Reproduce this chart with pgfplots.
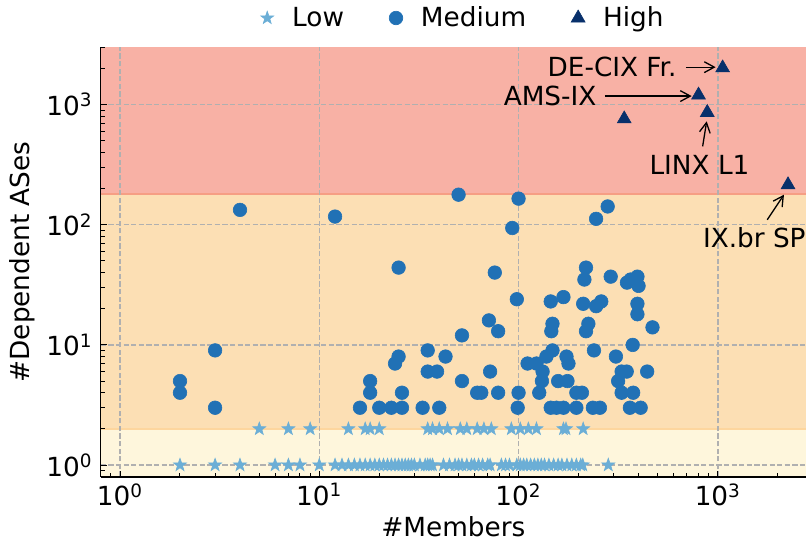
\documentclass[border=0pt]{standalone}
\usepackage{fontspec}
\setmainfont{DejaVu Sans}
\usepackage{pgfplots}
\pgfplotsset{compat=1.18}
\usetikzlibrary{arrows.meta,plotmarks}

\definecolor{lowc}{HTML}{6BAED6}
\definecolor{medc}{HTML}{2171B5}
\definecolor{highc}{HTML}{08306B}
\definecolor{redband}{RGB}{248,177,165}
\definecolor{rededge}{RGB}{246,158,132}
\definecolor{orgband}{RGB}{252,223,180}
\definecolor{orgedge}{RGB}{253,214,158}
\definecolor{yelband}{RGB}{254,246,220}
\definecolor{gridc}{RGB}{176,176,176}

\pgfdeclareplotmark{fstar}{%
  \pgfpathmoveto{\pgfpointpolar{90}{\pgfplotmarksize}}%
  \pgfpathlineto{\pgfpointpolar{126}{0.4\pgfplotmarksize}}%
  \pgfpathlineto{\pgfpointpolar{162}{\pgfplotmarksize}}%
  \pgfpathlineto{\pgfpointpolar{198}{0.4\pgfplotmarksize}}%
  \pgfpathlineto{\pgfpointpolar{234}{\pgfplotmarksize}}%
  \pgfpathlineto{\pgfpointpolar{270}{0.4\pgfplotmarksize}}%
  \pgfpathlineto{\pgfpointpolar{306}{\pgfplotmarksize}}%
  \pgfpathlineto{\pgfpointpolar{342}{0.4\pgfplotmarksize}}%
  \pgfpathlineto{\pgfpointpolar{18}{\pgfplotmarksize}}%
  \pgfpathlineto{\pgfpointpolar{54}{0.4\pgfplotmarksize}}%
  \pgfpathclose
  \pgfusepathqfillstroke}

\begin{document}
\begin{tikzpicture}[font=\fontsize{13.2}{15.8}\selectfont]
\begin{axis}[
  name=ax,
  set layers,
  scale only axis,
  width=352.65bp, height=214.7bp,
  xmode=log, ymode=log,
  xmin=0.8, xmax=2770, ymin=0.8, ymax=3000,
  axis x line*=bottom, axis y line*=left,
  axis line style={black, line width=0.8bp, -},
  tick align=inside,
  major tick length=3bp, minor tick length=2bp,
  every tick/.style={black, line width=0.5bp},
  xtick={1,10,100,1000}, ytick={1,10,100,1000},
  xticklabels={{10\textsuperscript{0}},{10\textsuperscript{1}},{10\textsuperscript{2}},{10\textsuperscript{3}}},
  yticklabels={{10\textsuperscript{0}},{10\textsuperscript{1}},{10\textsuperscript{2}},{10\textsuperscript{3}}},
  minor xtick={0.9,2,3,4,5,6,7,8,9,20,30,40,50,60,70,80,90,200,300,400,500,600,700,800,900,2000},
  minor ytick={0.9,2,3,4,5,6,7,8,9,20,30,40,50,60,70,80,90,200,300,400,500,600,700,800,900,2000,3000},
  xticklabel style={inner sep=0pt, anchor=north, yshift=-3.15bp},
  yticklabel style={inner sep=0pt, anchor=east, xshift=-3.85bp},
  grid=major,
  major grid style={gridc, dash pattern=on 2.6bp off 1.2bp, line width=0.7bp},
  clip=false,
  xlabel={\#Members}, ylabel={\#Dependent ASes},
  xlabel style={at={(axis description cs:0.5,-0.117)}, anchor=center},
  ylabel style={at={(axis description cs:-0.111,0.5)}, anchor=center},
  legend columns=3,
  legend style={draw=none, fill=none, at={(axis description cs:0.510,1.0682)}, anchor=center,
    /tikz/every even column/.append style={column sep=17bp},
    /tikz/every odd column/.append style={column sep=3.5bp}},
  legend image code/.code={\path[draw=none,fill=none] (0bp,0bp) -- (14bp,0bp); \path[#1, draw=none] plot[only marks, mark repeat=1] coordinates {(7bp,0bp)};},
]
% background bands
\addplot[fill=yelband, draw=none, on layer=axis background, forget plot] coordinates {(0.8,0.8) (2770,0.8) (2770,2) (0.8,2)} -- cycle;
\addplot[fill=orgband, draw=none, on layer=axis background, forget plot] coordinates {(0.8,2) (2770,2) (2770,182) (0.8,182)} -- cycle;
\addplot[fill=redband, draw=none, on layer=axis background, forget plot] coordinates {(0.8,182) (2770,182) (2770,3000) (0.8,3000)} -- cycle;
\addplot[draw=orgedge, line width=1bp, on layer=axis background, forget plot] coordinates {(0.8,2) (2770,2)};
\addplot[draw=rededge, line width=1bp, on layer=axis background, forget plot] coordinates {(0.8,182) (2770,182)};

% Low
\addplot[only marks, mark=fstar, mark size=3.4bp, color=lowc, mark options={fill=lowc, draw=lowc, line width=0.3bp}] coordinates {
(2,1)(3,1)(4,1)(6,1)(7,1)(8,1)(10,1)(12,1)(13,1)(14,1)(15,1)(16,1)(17,1)(18,1)(19,1)(20,1)(21,1)(22,1)(23,1)(24,1)(25,1)(26,1)(27,1)(28,1)(29,1)(30,1)(32,1)(34,1)(35,1)(36,1)(37,1)(42,1)(45,1)(48,1)(50,1)(52,1)(55,1)(58,1)(60,1)(63,1)(66,1)(70,1)(72,1)(82,1)(86,1)(90,1)(98,1)(102,1)(106,1)(110,1)(115,1)(120,1)(125,1)(130,1)(135,1)(142,1)(150,1)(158,1)(165,1)(175,1)(185,1)(195,1)(205,1)(210,1)(282,1)
(5,2)(7,2)(9,2)(14,2)(17,2)(18,2)(20,2)(35,2)(37,2)(40,2)(44,2)(51,2)(55,2)(62,2)(67,2)(73,2)(92,2)(102,2)(112,2)(123,2)(168,2)(173,2)(211,2)
};
\addlegendentry{Low}
% Medium
\addplot[only marks, mark=*, mark size=3.4bp, color=medc, mark options={fill=medc, draw=medc, line width=0.3bp}] coordinates {
(2,5)(2,4)(3,9)(3,3)(4,133)(12,117)(25,44)
(16,3)(18,5)(18,4)(20,3)(23,3)(26,3)(26,4)(24,7)(25,8)
(33,3)(35,9)(35,6)(39,6)(40,3)(43,8)
(50,178)(100,165)(93,94)(280,142)(245,112)
(76,40)(218,44)(214,35)(290,37)(350,33)(395,37)(400,31)(365,35)
(98,24)(145,23)(168,25)(211,22)(245,21)(260,23)(395,22)(395,18)(470,14)
(148,15)(146,13)(224,15)(218,13)(71,16)(79,13)(52,12)
(52,5)(72,6)(62,4)(65,4)(79,4)(100,4)(99,3)
(111,7)(123,7)(132,6)(138,8)(148,9)(131,5)(127,4)
(145,3)(155,3)(168,3)(158,5)(176,5)(174,8)(178,7)
(195,4)(208,4)(195,3)(236,3)(256,3)(239,9)
(308,8)(374,10)(329,6)(349,6)(316,5)(329,4)(376,4)(362,3)(410,3)(442,6)
};
\addlegendentry{Medium}
% High
\addplot[only marks, mark=triangle*, mark size=4bp, color=highc, mark options={fill=highc, draw=highc, line width=0.3bp}] coordinates {
(339,760)(800,1200)(885,860)(1057,2020)(2250,215)
};
\addlegendentry{High}

% annotations
\node[anchor=east, inner sep=0pt] at (axis cs:623,2045) {DE-CIX Fr.};
\draw[-{Straight Barb[length=5bp,width=5.4bp]}, line width=0.65bp] (axis cs:692,2050) -- (axis cs:975,2050);
\node[anchor=east, inner sep=0pt] at (axis cs:247,1185) {AMS-IX};
\draw[-{Straight Barb[length=5bp,width=5.4bp]}, line width=0.65bp] (axis cs:271,1178) -- (axis cs:739,1178);
\node[inner sep=0pt] at (axis cs:809,316) {LINX L1};
\draw[-{Straight Barb[length=5bp,width=5.4bp]}, line width=0.65bp] (axis cs:839,449) -- (axis cs:879,726);
\node[anchor=west, inner sep=0pt] at (axis cs:839,78) {IX.br SP};
\draw[-{Straight Barb[length=5bp,width=5.4bp]}, line width=0.65bp] (axis cs:1770,110) -- (axis cs:2147,178);
\end{axis}
\pgfresetboundingbox
\path[use as bounding box] ([xshift=-50.35bp,yshift=-34.65bp]ax.south west) rectangle ([yshift=23.65bp]ax.north east);
\end{tikzpicture}
\end{document}
